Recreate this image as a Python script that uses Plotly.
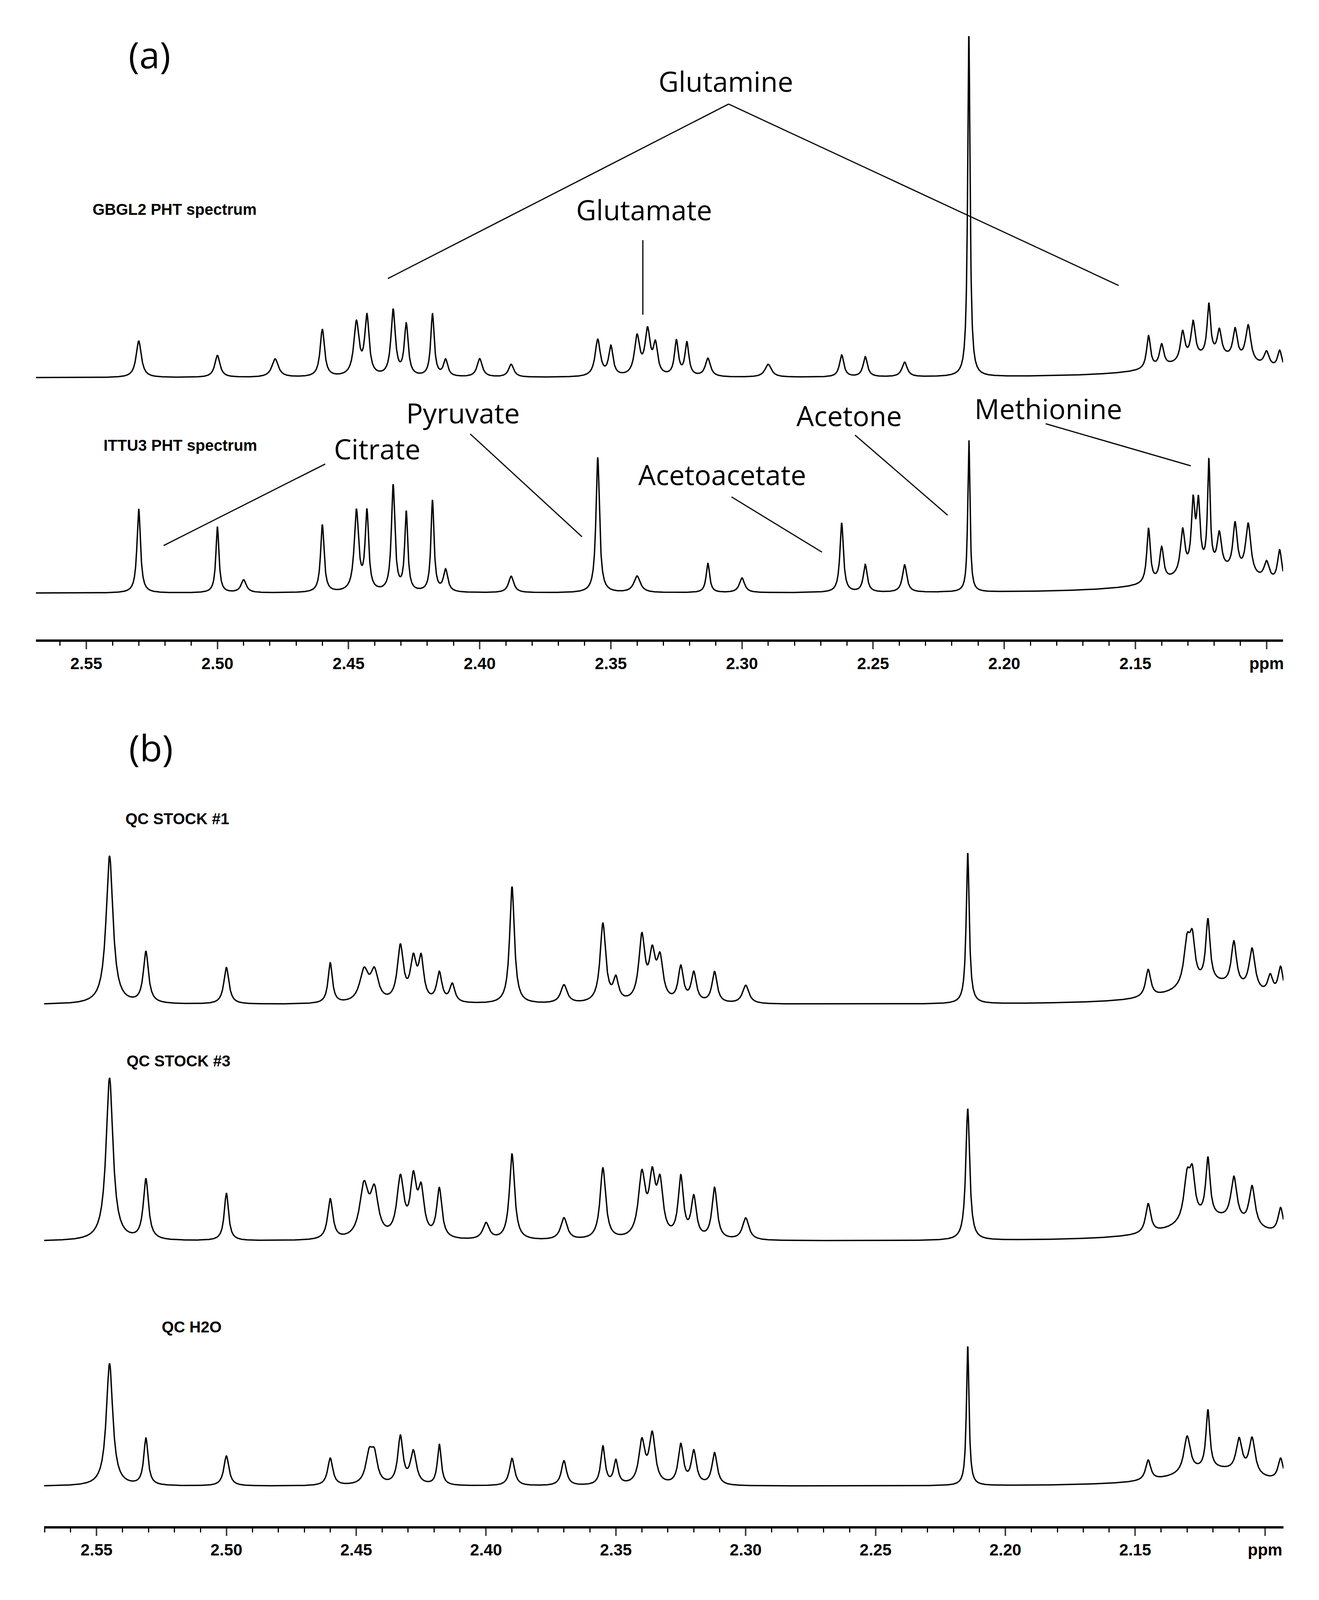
import numpy as np
import plotly.graph_objects as go

# peak lists: position (ppm), height (px above baseline), half width (ppm)
gbgl2_ppm = [2.530, 2.500, 2.478, 2.460, 2.447, 2.443, 2.433, 2.428, 2.418, 2.413, 2.400, 2.388,
             2.355, 2.350, 2.340, 2.336, 2.333, 2.325, 2.321, 2.313, 2.290, 2.262, 2.253, 2.238,
             2.2135, 2.145, 2.140, 2.132, 2.128, 2.122, 2.118, 2.112, 2.107, 2.100, 2.095, 2.120]
gbgl2_height = [100, 60, 50, 130, 145, 160, 180, 140, 170, 45, 50, 35,
                100, 80, 105, 120, 80, 95, 90, 50, 35, 60, 55, 40,
                937, 90, 60, 80, 100, 140, 70, 80, 100, 40, 50, 55]
gbgl2_width = [0.0012, 0.0012, 0.0015, 0.0010, 0.0012, 0.0010, 0.0010, 0.0009, 0.0008, 0.0010, 0.0012, 0.0012,
               0.0012, 0.0010, 0.0012, 0.0012, 0.0010, 0.0009, 0.0009, 0.0012, 0.0015, 0.0010, 0.0010, 0.0012,
               0.00055, 0.0009, 0.0010, 0.0010, 0.0010, 0.0008, 0.0010, 0.0010, 0.0012, 0.0012, 0.0010, 0.020]

ittu3_ppm = [2.530, 2.500, 2.490, 2.460, 2.447, 2.443, 2.433, 2.428, 2.418, 2.413, 2.388,
             2.355, 2.340, 2.313, 2.300, 2.262, 2.253, 2.238, 2.2135,
             2.145, 2.140, 2.132, 2.128, 2.126, 2.122, 2.118, 2.112, 2.107, 2.100, 2.095, 2.120]
ittu3_height = [230, 180, 35, 185, 220, 215, 290, 215, 250, 60, 45,
                370, 45, 80, 40, 190, 75, 75, 418,
                150, 90, 120, 180, 175, 290, 95, 130, 140, 50, 90, 60]
ittu3_width = [0.0008, 0.0007, 0.0012, 0.0008, 0.0010, 0.0008, 0.0008, 0.0007, 0.0007, 0.0010, 0.0012,
               0.0008, 0.0015, 0.0008, 0.0012, 0.0008, 0.0009, 0.0010, 0.0005,
               0.0008, 0.0009, 0.0010, 0.0008, 0.0008, 0.0006, 0.0010, 0.0010, 0.0012, 0.0012, 0.0010, 0.020]

qc1_ppm = [2.545, 2.531, 2.500, 2.460, 2.447, 2.443, 2.433, 2.428, 2.425, 2.418, 2.413, 2.390, 2.370,
           2.355, 2.350, 2.340, 2.336, 2.333, 2.325, 2.320, 2.312, 2.300, 2.2145,
           2.145, 2.130, 2.128, 2.122, 2.112, 2.105, 2.098, 2.094, 2.120]
qc1_height = [405, 140, 100, 110, 85, 80, 150, 110, 110, 80, 50, 320, 50,
              215, 60, 175, 120, 110, 95, 80, 85, 50, 413,
              75, 120, 110, 170, 120, 115, 50, 80, 55]
qc1_width = [0.0016, 0.0012, 0.0012, 0.0010, 0.0020, 0.0018, 0.0014, 0.0014, 0.0012, 0.0012, 0.0012, 0.0011, 0.0015,
             0.0013, 0.0012, 0.0014, 0.0014, 0.0014, 0.0012, 0.0012, 0.0012, 0.0015, 0.0007,
             0.0012, 0.0015, 0.0012, 0.0010, 0.0012, 0.0014, 0.0012, 0.0012, 0.018]

qc3_ppm = [2.545, 2.531, 2.500, 2.460, 2.447, 2.443, 2.433, 2.428, 2.425, 2.418, 2.400, 2.390, 2.370,
           2.355, 2.340, 2.336, 2.333, 2.325, 2.320, 2.312, 2.300, 2.2145,
           2.145, 2.130, 2.128, 2.122, 2.112, 2.105, 2.094, 2.120]
qc3_height = [445, 165, 130, 110, 140, 120, 160, 150, 120, 135, 45, 235, 60,
              195, 170, 150, 140, 165, 110, 140, 60, 360,
              80, 120, 110, 160, 120, 110, 70, 60]
qc3_width = [0.0016, 0.0012, 0.0010, 0.0012, 0.0020, 0.0018, 0.0016, 0.0014, 0.0014, 0.0012, 0.0015, 0.0012, 0.0015,
             0.0013, 0.0016, 0.0014, 0.0014, 0.0012, 0.0012, 0.0012, 0.0015, 0.0009,
             0.0012, 0.0015, 0.0012, 0.0010, 0.0014, 0.0014, 0.0012, 0.018]

h2o_ppm = [2.545, 2.531, 2.500, 2.460, 2.445, 2.443, 2.433, 2.428, 2.418, 2.390, 2.370,
           2.355, 2.350, 2.340, 2.336, 2.325, 2.320, 2.312, 2.2145,
           2.145, 2.130, 2.122, 2.110, 2.105, 2.094, 2.120]
h2o_height = [335, 128, 82, 75, 80, 70, 130, 90, 112, 75, 68,
              105, 65, 115, 135, 108, 90, 88, 382,
              55, 100, 160, 90, 100, 60, 45]
h2o_width = [0.0015, 0.0010, 0.0012, 0.0012, 0.0016, 0.0014, 0.0012, 0.0014, 0.0009, 0.0012, 0.0012,
             0.0010, 0.0010, 0.0014, 0.0014, 0.0012, 0.0012, 0.0012, 0.0006,
             0.0012, 0.0015, 0.0009, 0.0014, 0.0014, 0.0012, 0.018]

# baselines, in reference px from the top of the page
baselines = {'gbgl2': 1024, 'ittu3': 1613, 'qc1': 2738, 'qc3': 3385, 'h2o': 4055}

W = 3377
H_REF = 4304       # reference height used for the layout fractions
H = 4030           # drawn height, so the bottom tick labels stay in view
S = H / H_REF
ppm_top = np.linspace(2.5692, 2.0937, 5000)
ppm_bot = np.linspace(2.5702, 2.0929, 5000)


def spectrum(ppm, pos, hgt, wid, base):
    y = np.zeros_like(ppm)
    for p, h, w in zip(pos, hgt, wid):
        y += h * w**2 / ((ppm - p)**2 + w**2)
    return -base + y


fig = go.Figure()
line = dict(color='black', width=3.5)
fig.add_trace(go.Scatter(x=ppm_top, y=spectrum(ppm_top, gbgl2_ppm, gbgl2_height, gbgl2_width, baselines['gbgl2']),
                         mode='lines', line=line, xaxis='x', yaxis='y', showlegend=False))
fig.add_trace(go.Scatter(x=ppm_top, y=spectrum(ppm_top, ittu3_ppm, ittu3_height, ittu3_width, baselines['ittu3']),
                         mode='lines', line=line, xaxis='x', yaxis='y', showlegend=False))
for pos, hgt, wid, key in [(qc1_ppm, qc1_height, qc1_width, 'qc1'),
                           (qc3_ppm, qc3_height, qc3_width, 'qc3'),
                           (h2o_ppm, h2o_height, h2o_width, 'h2o')]:
    fig.add_trace(go.Scatter(x=ppm_bot, y=spectrum(ppm_bot, pos, hgt, wid, baselines[key]),
                             mode='lines', line=line, xaxis='x2', yaxis='y2', showlegend=False))

tickvals = [2.55, 2.50, 2.45, 2.40, 2.35, 2.30, 2.25, 2.20, 2.15, 2.10]
ticktext = ['2.55', '2.50', '2.45', '2.40', '2.35', '2.30', '2.25', '2.20', '2.15', 'ppm']
xax = dict(tickvals=tickvals, ticktext=ticktext, ticks='outside', ticklen=19, tickwidth=4,
           showline=True, linecolor='black', linewidth=6, showgrid=False, zeroline=False,
           tickfont=dict(family='Liberation Sans', size=42, color='black', weight='bold'),
           minor=dict(dtick=0.01, tick0=2.10, ticks='outside', ticklen=10, tickwidth=3, tickcolor='black'))
fig.update_layout(
    width=W, height=H, margin=dict(l=0, r=0, t=0, b=0),
    plot_bgcolor='white', paper_bgcolor='white',
    xaxis=dict(xax, domain=[84 / W, 3279 / W], range=[2.5692, 2.0937], anchor='y'),
    yaxis=dict(domain=[1 - 1740 / H_REF, 1], range=[-1740, 0], visible=False, anchor='x'),
    xaxis2=dict(xax, domain=[105 / W, 3280 / W], range=[2.5702, 2.0929], anchor='y2'),
    yaxis2=dict(domain=[1 - 4164 / H_REF, 1 - 1950 / H_REF], range=[-4164, -1950], visible=False, anchor='x2'),
)

name_font = dict(family='Open Sans', size=round(76 * S), color='black')
bold_font = dict(family='Liberation Sans', size=round(43 * S), color='black', weight='bold')
tag_font = dict(family='Open Sans', size=round(100 * S), color='black')

labels = [('Glutamine', 2.3061, 213), ('Glutamate', 2.3374, 564), ('Citrate', 2.4391, 1218),
          ('Pyruvate', 2.4064, 1120), ('Acetoacetate', 2.3076, 1288), ('Acetone', 2.2591, 1127),
          ('Methionine', 2.1832, 1108)]
for txt, x, y in labels:
    fig.add_annotation(x=x, y=-y, xref='x', yref='y', text=txt, showarrow=False, font=name_font)

fig.add_annotation(x=2.5258, y=-140, xref='x', yref='y', text='(a)', showarrow=False, font=tag_font)
fig.add_annotation(x=2.5290, y=-2034, xref='x2', yref='y2', text='(b)', showarrow=False, font=tag_font)

for txt, x, y, ax_ in [('GBGL2 PHT spectrum', 2.5479, 564, 'x'), ('ITTU3 PHT spectrum', 2.5438, 1209, 'x'),
                       ('QC STOCK #1', 2.5392, 2230, 'x2'), ('QC STOCK #3', 2.5387, 2892, 'x2'),
                       ('QC H2O', 2.5252, 3619, 'x2')]:
    fig.add_annotation(x=x, y=-y, xref=ax_, yref='y' if ax_ == 'x' else 'y2', text=txt,
                       showarrow=False, xanchor='left', font=bold_font)

pointers = [((2.4350, 753), (2.3051, 276)), ((2.3051, 276), (2.1564, 772)),
            ((2.3378, 648), (2.3378, 852)),
            ((2.4589, 1260), (2.5205, 1483)), ((2.4036, 1178), (2.3610, 1459)),
            ((2.3040, 1350), (2.2695, 1501)), ((2.2569, 1181), (2.2216, 1400)),
            ((2.1842, 1150), (2.1289, 1265))]
for (x0, y0), (x1, y1) in pointers:
    fig.add_shape(type='line', xref='x', yref='y', x0=x0, y0=-y0, x1=x1, y1=-y1,
                  line=dict(color='black', width=3))

fig.write_html('out.html')
